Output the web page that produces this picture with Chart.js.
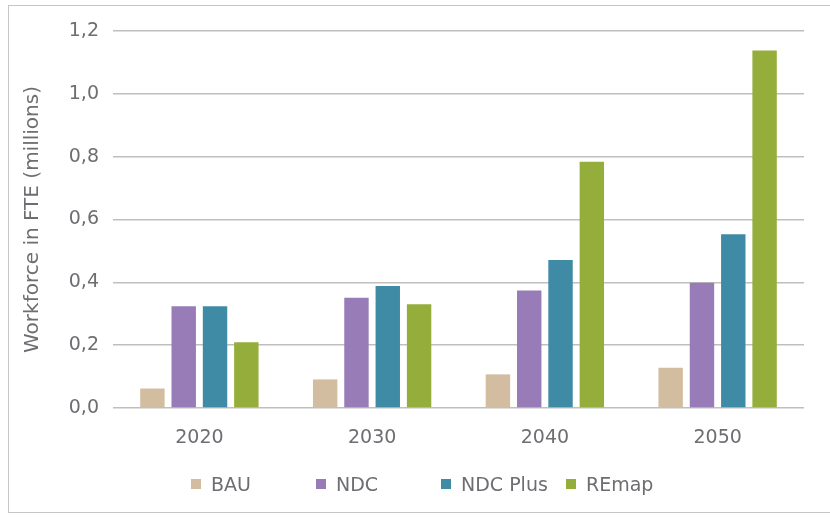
<!DOCTYPE html>
<html>
<head>
<meta charset="utf-8">
<script src="https://cdn.jsdelivr.net/npm/chart.js@4.4.1/dist/chart.umd.min.js"></script>
<style>
    html, body { margin: 0; padding: 0; background: #fff; }
    #wrap { position: relative; width: 830px; height: 519px; overflow: hidden; }
    #frame { position: absolute; left: 8px; top: 5px; width: 830px; height: 508px; border: 1px solid #c6c6c6; box-sizing: border-box; }
    #chart { position: absolute; left: 0; top: 0; }
    #legend { position: absolute; top: 474px; left: 0; font-family: "DejaVu Sans", sans-serif; font-size: 19px; color: #6d6e71; }
    .item { position: absolute; white-space: nowrap; line-height: 20px; }
    .item span.box { position: absolute; left: 0; top: 5px; width: 10px; height: 10px; }
    .item span.txt { position: absolute; left: 20px; top: 0; }
</style>
</head>
<body>
<div id="wrap">
    <div id="frame"></div>
    <canvas id="chart" width="830" height="519"></canvas>
    <div id="legend"></div>
</div>
<script>
const anos = ['2020', '2030', '2040', '2050'];
const bau = [0.062, 0.091, 0.107, 0.128];
const ndc = [0.324, 0.351, 0.374, 0.399];
const ndcPlus = [0.324, 0.388, 0.471, 0.553];
const remap = [0.209, 0.330, 0.784, 1.138];

const cores = ['#d2bda0', '#977cb7', '#3f8ba6', '#95ae3b'];
const nomes = ['BAU', 'NDC', 'NDC Plus', 'REmap'];
const series = [bau, ndc, ndcPlus, remap];

const corTexto = '#6d6e71';
const fonte = { family: '"DejaVu Sans", sans-serif', size: 19 };

function renderChart() {
    const ctx = document.getElementById('chart').getContext('2d');
    new Chart(ctx, {
        type: 'bar',
        data: {
            labels: anos,
            datasets: series.map((valores, i) => ({
                label: nomes[i],
                data: valores,
                backgroundColor: cores[i],
                borderWidth: 0,
                barPercentage: 0.78,
                categoryPercentage: 0.725
            }))
        },
        options: {
            responsive: false,
            animation: false,
            layout: { padding: { left: 0, right: 26, top: 31, bottom: 0 } },
            plugins: {
                legend: { display: false },
                tooltip: { enabled: false }
            },
            scales: {
                x: {
                    grid: { display: false },
                    border: { display: false },
                    ticks: { color: corTexto, font: fonte, padding: 11 },
                    afterFit: s => { s.height = 111; }
                },
                y: {
                    min: 0,
                    max: 1.2,
                    ticks: {
                        stepSize: 0.2,
                        color: corTexto,
                        font: fonte,
                        padding: 14,
                        callback: v => v.toFixed(1).replace('.', ',') // vírgula decimal
                    },
                    grid: { color: '#bfbfbf', lineWidth: 1.5, drawTicks: false },
                    border: { display: false },
                    title: {
                        display: true,
                        text: 'Workforce in FTE (millions)',
                        color: corTexto,
                        font: { family: '"DejaVu Sans", sans-serif', size: 20 },
                        padding: { top: 21, bottom: 0 }
                    },
                    afterFit: s => { s.width = 113; }
                }
            }
        }
    });
}

// legenda em HTML, com itens de largura fixa
function renderLegend() {
    const leg = document.getElementById('legend');
    const inicio = [191, 316, 441, 566];
    nomes.forEach((nome, i) => {
        const item = document.createElement('div');
        item.className = 'item';
        item.style.left = inicio[i] + 'px';
        item.innerHTML = '<span class="box" style="background:' + cores[i] + '"></span><span class="txt">' + nome + '</span>';
        leg.appendChild(item);
    });
}

renderChart();
renderLegend();
</script>
</body>
</html>
